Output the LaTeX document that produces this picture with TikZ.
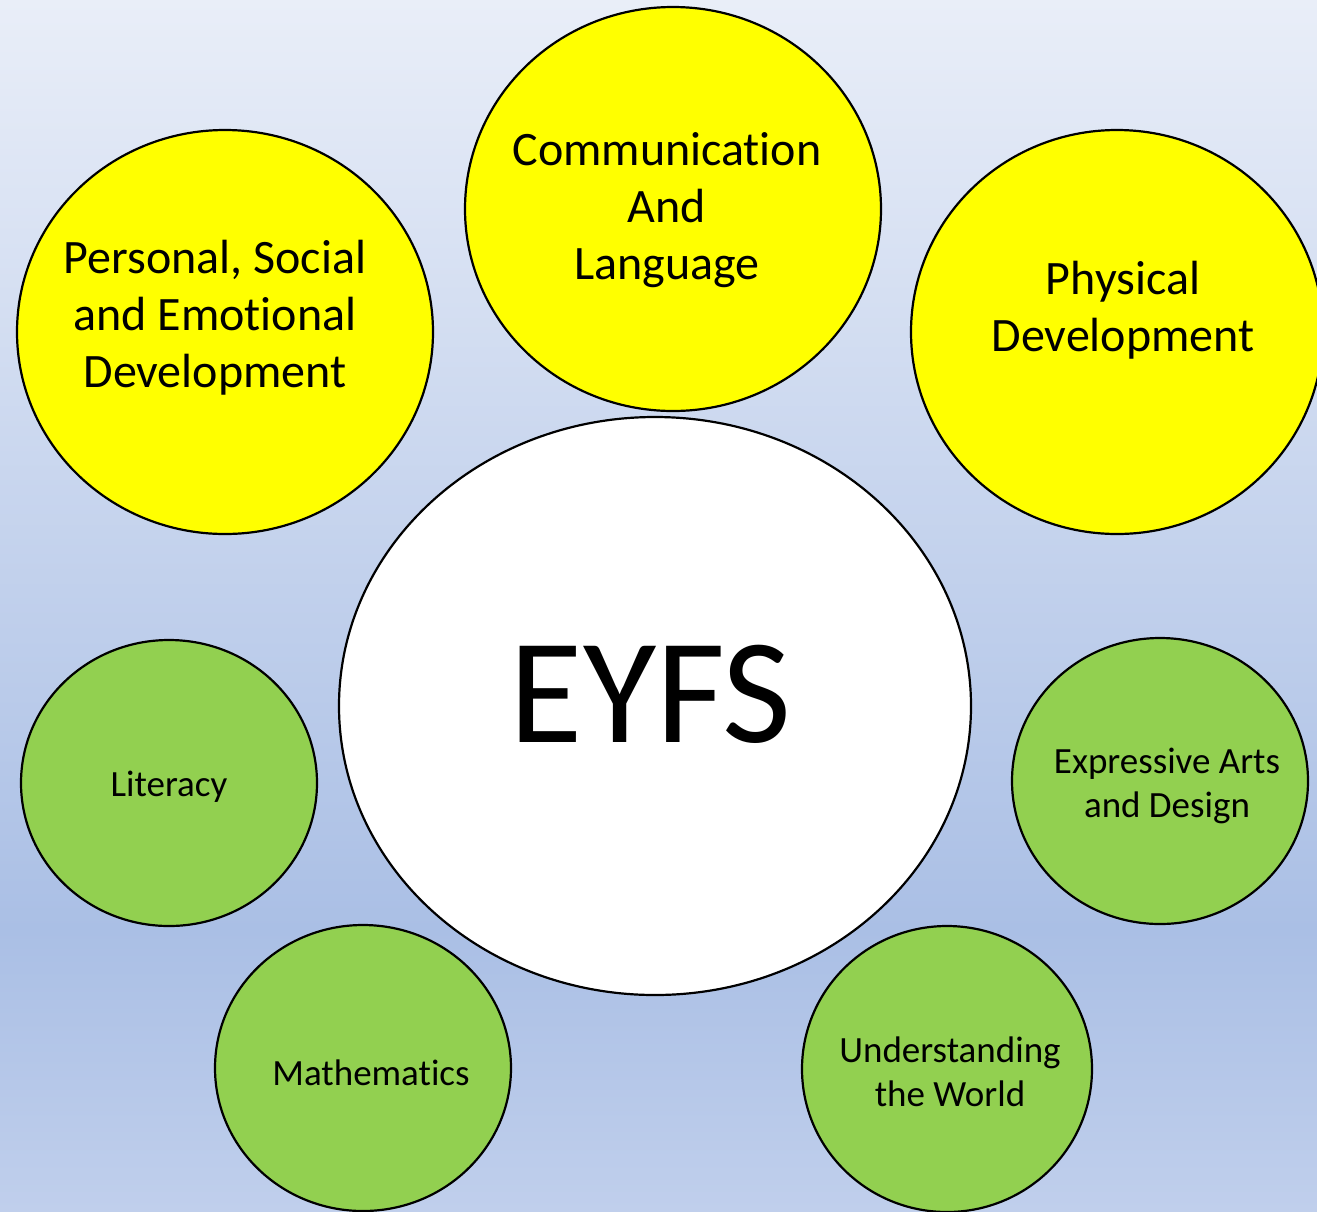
\documentclass[tikz,border=0pt]{standalone}
\usepackage{fontspec}
\setmainfont[Ligatures={NoCommon}]{Carlito}
\usetikzlibrary{shapes.geometric}
\definecolor{bgtop}{RGB}{233,238,248}
\definecolor{bgmid}{RGB}{170,191,229}
\definecolor{bgbot}{RGB}{192,207,236}
\definecolor{yel}{RGB}{255,255,0}
\definecolor{grn}{RGB}{146,208,80}
\tikzset{
  blob/.style={ellipse, draw=black, line width=2.2pt, inner sep=0pt},
  bigblob/.style={blob, fill=yel, minimum width=416pt, minimum height=404pt},
  smallblob/.style={blob, fill=grn, minimum width=296pt, minimum height=286pt},
  bigtxt/.style={align=center, font=\fontsize{48}{57}\selectfont, inner sep=0pt},
  smalltxt/.style={align=center, font=\fontsize{37}{44}\selectfont, inner sep=0pt}
}
\begin{document}
\begin{tikzpicture}[x=1pt,y=-1pt]
\useasboundingbox (0,0) rectangle (1317,1211);
\shade[top color=bgtop, bottom color=bgmid] (0,0) rectangle (1317,930);
\shade[top color=bgmid, bottom color=bgbot] (0,929.5) rectangle (1317,1211);
% yellow
\node[bigblob] (cal) at (673,209) {};
\node[bigblob] (pse) at (225,332) {};
\node[bigblob, minimum width=412pt] (phy) at (1117,332) {};
% centre
\node[blob, fill=white, minimum width=632pt, minimum height=578pt] (eyfs) at (655,706) {};
% green
\node[smallblob] (lit) at (169,783) {};
\node[smallblob] (mat) at (363,1068) {};
\node[smallblob, minimum width=290pt] (utw) at (947,1069) {};
\node[smallblob] (ead) at (1160,781) {};
% texts
\node[bigtxt] (calt) at (667,210) {Communication\\And\\Language};
\node[bigtxt] (pset) at (215,318) {Personal, Social\\and Emotional\\Development};
\node[bigtxt] (phyt) at (1123,310) {Physical\\Development};
\node[font=\fontsize{150}{160}\selectfont, inner sep=0pt] (eyfst) at (651,694) {EYFS};
\node[smalltxt] (litt) at (169,787) {Literacy};
\node[smalltxt] (matt) at (371,1073) {Mathematics};
\node[smalltxt] (utwt) at (950,1072) {Understanding\\the World};
\node[smalltxt] (eadt) at (1167,786) {Expressive Arts\\and Design};
\end{tikzpicture}
\end{document}
